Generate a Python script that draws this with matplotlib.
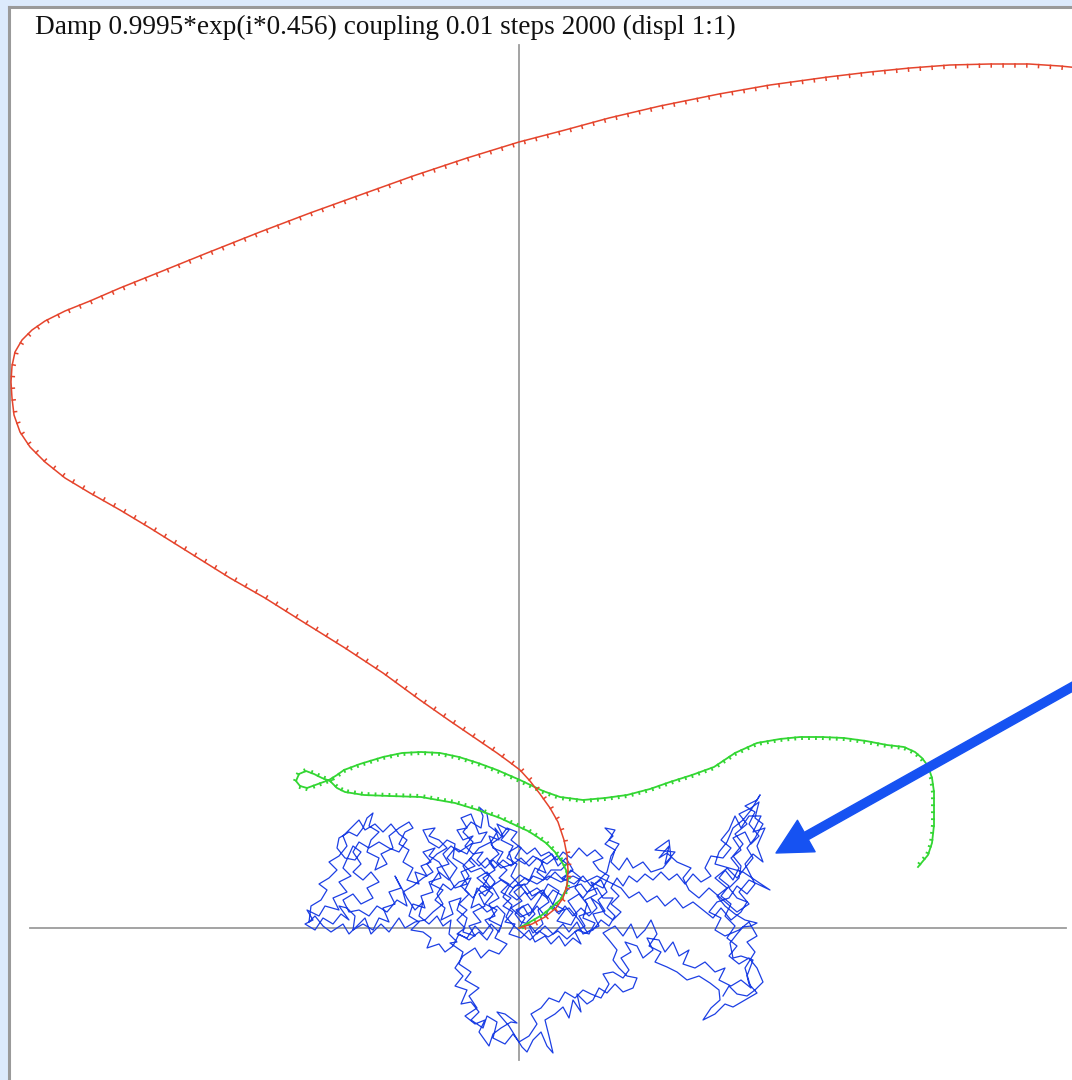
import numpy as np
import matplotlib
matplotlib.use("Agg")
import matplotlib.pyplot as plt
from matplotlib import patheffects

# trajectories in display units, origin at the crossing of the two axes
red_path = [
    (0, 0), (13, 4), (26, 11), (37, 20), (44, 30), (48, 43), (49, 58), (48, 73),
    (45, 88), (39, 106), (31, 120), (21, 134), (11, 147), (1, 158), (-11, 167),
    (-22, 175), (-44, 190), (-69, 207), (-99, 228), (-136, 255), (-174, 280),
    (-219, 308), (-254, 330), (-289, 350), (-329, 375), (-369, 400), (-399, 418),
    (-429, 435), (-454, 450), (-474, 466), (-489, 481), (-499, 496), (-505, 513),
    (-507, 530), (-508, 546), (-507, 562), (-504, 576), (-497, 588), (-487, 598),
    (-474, 607), (-454, 617), (-429, 627), (-399, 640), (-359, 656), (-312, 675),
    (-259, 696), (-209, 715), (-159, 733), (-106, 752), (-52, 770), (0, 786),
    (46, 798), (90, 810), (141, 822), (200, 834), (251, 843), (309, 851),
    (351, 856), (391, 860), (431, 863), (471, 864), (510, 864), (541, 862),
    (561, 860),
]

green_path = [
    (0, 0), (11, 6), (23, 13), (33, 21), (41, 28), (47, 38), (49, 48), (47, 58),
    (43, 66), (36, 76), (27, 85), (17, 92), (9, 97), (-4, 103), (-19, 110),
    (-41, 118), (-64, 125), (-98, 131), (-129, 132), (-155, 133), (-174, 136),
    (-182, 140), (-189, 147), (-197, 150), (-205, 154), (-213, 157), (-220, 154),
    (-223, 147), (-219, 142), (-212, 140), (-201, 144), (-190, 148), (-182, 153),
    (-175, 158), (-159, 164), (-136, 171), (-117, 175), (-98, 176), (-79, 175),
    (-60, 171), (-41, 165), (-22, 158), (1, 148), (24, 137), (41, 131), (64, 128),
    (86, 130), (108, 133), (131, 139), (151, 146), (173, 153), (195, 161),
    (216, 175), (238, 185), (261, 189), (281, 191), (303, 191), (325, 190),
    (347, 187), (368, 183), (385, 181), (396, 176), (403, 170), (409, 162),
    (413, 150), (415, 136), (415, 120), (415, 103), (413, 85), (409, 73), (399, 61),
]

blue_path = [
    (0, 0), (6, 10), (-3, 18), (9, 24), (16, 14), (8, 6), (14, -5), (24, 4), (19, 18),
    (30, 26), (24, 38), (13, 32), (5, 44), (-5, 36), (3, 27), (-8, 20), (2, 11),
    (12, 16), (21, 30), (29, 44), (40, 37), (34, 24), (46, 18), (38, 7), (52, 3),
    (58, 14), (49, 27), (60, 34), (68, 24), (64, 10), (76, 5), (70, -6), (58, -2),
    (48, -11), (39, -3), (29, -9), (20, -3), (11, -12), (3, -5), (-6, 3), (-13, 11),
    (-7, 23), (-16, 31), (-9, 43), (1, 53), (10, 47), (16, 60), (27, 55), (22, 67),
    (33, 74), (39, 62), (47, 70), (54, 58), (43, 50), (55, 44), (64, 52), (72, 42),
    (82, 48), (88, 36), (79, 28), (86, 17), (74, 14), (80, 2), (68, -4), (60, 8),
    (50, 20), (38, 16), (30, 30), (18, 40), (8, 34), (0, 44),
    (-8, 52), (-2, 64), (-12, 70), (-6, 82), (-18, 88), (-10, 98), (-22, 104),
    (-16, 92), (-28, 84), (-20, 74), (-30, 66), (-24, 58), (-36, 50), (-28, 40),
    (-40, 34), (-34, 22), (-46, 16), (-38, 6), (-50, 2), (-44, -8), (-56, -4),
    (-52, 10), (-62, 18), (-58, 30), (-70, 26), (-66, 14), (-78, 8), (-74, 20),
    (-84, 28), (-76, 38), (-88, 44), (-80, 56), (-70, 48), (-62, 60), (-72, 70),
    (-64, 80), (-52, 74), (-46, 86), (-56, 96), (-48, 106), (-38, 100), (-36, 112),
    (-40, 121), (-32, 114), (-30, 102), (-22, 96), (-28, 86), (-40, 80), (-50, 68),
    (-44, 62), (-58, 56), (-52, 44), (-64, 40),
    (-80, 66), (-90, 72), (-84, 80), (-96, 76), (-88, 66), (-98, 62), (-92, 52),
    (-104, 56), (-100, 44), (-112, 48), (-106, 60), (-116, 66), (-110, 78),
    (-120, 84), (-114, 96), (-106, 100), (-110, 106),
    (-120, 100), (-130, 92), (-126, 80), (-138, 74), (-132, 64), (-144, 58),
    (-140, 70), (-152, 76), (-148, 88), (-140, 96), (-150, 102), (-146, 115),
    (-152, 110), (-156, 100), (-162, 92), (-170, 96), (-180, 90), (-182, 80),
    (-174, 70), (-164, 68), (-158, 76), (-166, 82), (-176, 60), (-168, 52),
    (-180, 46), (-172, 36), (-186, 30), (-180, 18), (-194, 22), (-200, 12),
    (-212, 18), (-206, 8), (-214, 4), (-204, -2), (-196, 10), (-186, 4), (-178, 14),
    (-170, 8), (-180, 22), (-172, 20), (-164, 12), (-166, -2), (-156, 4), (-146, -2),
    (-140, 10), (-130, 6), (-136, 20), (-124, 24), (-130, 36), (-118, 40),
    (-124, 52), (-112, 30), (-104, 18), (-96, 26), (-100, 12), (-90, 4), (-82, 12),
    (-76, 2), (-68, 8), (-70, -6), (-62, -14),
    (-69, -15), (-56, -24), (-60, -36), (-48, -44), (-54, -52), (-40, -60),
    (-50, -68), (-42, -80), (-54, -88), (-44, -96), (-34, -92), (-40, -104),
    (-30, -118), (-26, -106), (-18, -100), (-8, -94), (-2, -95), (-14, -86),
    (-22, -84), (-10, -98), (3, -119), (8, -124), (14, -112), (22, -104), (28, -118),
    (34, -125), (30, -108), (26, -92), (36, -86), (44, -79), (50, -90), (54, -72),
    (62, -84), (58, -66), (68, -76), (74, -72), (80, -60), (88, -65), (96, -56),
    (104, -64), (114, -60), (118, -50), (108, -48), (100, -40), (94, -32), (98, -22),
    (90, -12), (84, -5),
    (96, 2), (104, -8), (112, 4), (118, -10), (126, -2), (132, 8), (138, -6),
    (130, -18), (142, -24), (136, -34), (148, -39), (158, -44), (168, -52),
    (180, -48), (191, -55), (200, -62), (201, -72), (192, -80), (184, -92),
    (196, -86), (206, -76), (214, -79), (226, -72), (238, -65), (230, -56),
    (228, -48), (234, -32), (222, -28), (214, -30), (211, -15), (218, -6), (224, 1),
    (232, 2), (238, 5), (226, 8),
    (216, 14), (206, 22), (198, 32), (208, 40), (196, 50), (206, 58), (214, 48),
    (220, 60), (212, 70), (222, 78), (214, 90), (226, 96), (232, 84), (240, 92),
    (230, 104), (236, 116), (226, 122), (238, 128), (241, 133), (232, 118),
    (224, 108), (214, 100), (208, 86), (200, 76), (196, 64), (224, 56), (251, 38),
    (230, 48), (220, 36), (230, 24), (218, 16),
    (190, 40), (180, 30), (170, 38), (164, 50), (172, 60), (158, 66), (148, 75),
    (140, 70), (150, 82), (146, 64), (156, 76), (136, 78), (150, 88), (152, 70),
    (144, 60), (132, 56), (124, 66), (114, 60), (108, 70), (100, 58), (92, 66),
    (96, 78), (86, 84), (94, 92), (86, 100), (96, 98), (90, 88), (100, 84), (92, 72),
    (88, 56), (80, 48), (72, 40), (64, 30),
    (56, 40), (62, 50), (52, 58), (44, 48), (36, 56), (28, 48), (18, 56), (24, 66),
    (14, 72), (6, 64), (-4, 70), (2, 80), (-8, 88), (-2, 96), (-12, 100), (-18, 92),
    (-24, 100), (-20, 88), (-30, 92), (-26, 80), (-16, 76), (-22, 66), (-12, 58),
    (-20, 50), (-10, 44), (-18, 36), (-8, 30), (-16, 22), (-6, 16), (-14, 6), (-4, 4),
    (-10, -6), (2, -10), (10, -2), (16, -14), (26, -8), (32, -16), (40, -8),
    (46, -18), (54, -10), (62, -16), (56, -4), (66, 2), (60, 12), (72, 16), (66, 28),
    (78, 34), (72, 46), (84, 40), (90, 52), (80, 58), (74, 66), (84, 70), (76, 78),
    (68, 72), (60, 80), (52, 70), (44, 76), (38, 68), (30, 76), (22, 72), (16, 80),
    (8, 74), (0, 82), (-10, 76), (-6, 64), (-18, 60), (-26, 68), (-34, 60), (-42, 68),
    (-36, 76), (-46, 74), (-54, 82), (-46, 92), (-56, 88), (-62, 98), (-52, 100),
    (-58, 110), (-48, 114), (-44, 104), (-40, 94), (-32, 96), (-38, 86), (-48, 84),
    (-60, 76), (-68, 82), (-76, 74), (-70, 64), (-82, 60), (-78, 50), (-90, 46),
    (-86, 36), (-98, 32), (-94, 20), (-106, 24), (-110, 12), (-100, 6), (-108, -2),
    (-96, -4), (-88, -10), (-92, -20), (-80, -16), (-74, -24), (-66, -18), (-60, -6),
    (-50, -12), (-40, -4), (-32, -12), (-26, -2), (-34, 8), (-24, 12), (-30, 24),
    (-20, 30), (-26, 40), (-38, 42), (-46, 30), (-54, 38), (-48, 50), (-60, 46),
    (-68, 38), (-76, 44), (-82, 34), (-76, 24), (-86, 16), (-94, 8),
    (-104, 6), (-114, 0), (-120, 10), (-130, -4), (-138, 4), (-148, -6), (-154, 10),
    (-162, 2), (-170, -6), (-176, 4), (-188, -4), (-196, 2), (-204, 12), (-210, 6),
    (-208, 22), (-198, 28), (-192, 38), (-200, 44), (-190, 50), (-182, 58),
    (-190, 66), (-180, 72), (-172, 82), (-176, 92), (-168, 100), (-160, 108),
    (-154, 98), (-144, 104), (-136, 96), (-128, 104), (-120, 94), (-112, 88),
    (-120, 76), (-130, 80), (-140, 86), (-150, 80), (-160, 86), (-166, 76),
    (-158, 64), (-166, 56), (-156, 48), (-148, 56), (-140, 46), (-152, 40),
    (-146, 30), (-158, 24), (-166, 34), (-176, 28), (-170, 16), (-160, 18),
    (-150, 12), (-142, 22), (-132, 16), (-122, 28), (-112, 22), (-116, 36),
    (-106, 42), (-96, 50), (-86, 56), (-92, 64), (-82, 74), (-72, 80), (-80, 88),
    (-90, 92), (-84, 100), (-96, 98),
    (-90, 86), (-80, 80), (-72, 88), (-64, 84), (-66, 70), (-56, 64), (-48, 56),
    (-38, 60), (-30, 52), (-36, 42), (-26, 34), (-34, 24), (-22, 18), (-30, 8),
    (-18, 2), (-24, -10), (-12, -16), (-20, -26), (-30, -22), (-38, -30), (-44, -20),
    (-56, -28), (-64, -40), (-56, -48), (-64, -58), (-52, -62), (-58, -76),
    (-48, -74), (-40, -84), (-48, -92), (-36, -100), (-32, -88), (-22, -94),
    (-26, -110), (-14, -116), (-6, -106), (0, -114), (10, -108), (18, -96), (12, -86),
    (22, -80), (30, -70), (40, -74), (46, -64), (56, -70), (64, -62), (72, -66),
    (82, -70), (90, -56), (84, -46), (94, -44), (104, -50),
    (110, -42), (102, -30), (112, -24), (106, -14), (118, -18), (124, -30),
    (134, -22), (128, -10), (140, -12), (146, -24), (154, -14), (160, -28),
    (170, -22), (164, -36), (176, -40), (186, -34), (196, -44), (206, -40),
    (200, -52), (212, -58), (222, -52), (232, -60), (226, -40), (236, -24),
    (228, -14), (238, -8), (230, 6), (220, -2), (206, -8), (196, -2), (202, 10),
    (190, 16), (198, 26), (210, 30), (218, 42), (228, 34), (236, 44), (226, 64),
    (234, 74), (244, 66), (238, 82), (246, 100), (234, 96), (242, 112), (230, 112),
    (222, 100), (216, 112), (210, 98), (202, 88), (212, 80), (204, 70), (192, 72),
    (186, 60), (192, 52), (182, 46), (174, 54), (166, 44), (158, 54), (150, 48),
    (142, 56), (134, 48), (126, 54), (118, 46), (110, 52), (104, 42), (98, 50),
    (92, 40), (100, 32), (92, 24), (102, 16), (94, 8), (86, 14), (80, 24),
    (72, 30), (78, 20), (70, 12), (62, 20), (54, 12), (46, 22), (40, 14), (32, 22),
    (26, 12), (18, 22), (10, 12), (4, 22), (-4, 14), (2, 6), (10, 4), (18, -6),
    (26, 2), (34, -6), (44, 4), (50, -4), (58, 6), (64, -6), (74, -2), (82, 8),
    (90, 2), (96, 12), (88, 20), (94, 30), (84, 30), (78, 40), (68, 36), (62, 44),
    (50, 40), (44, 32), (34, 38), (28, 30), (20, 36), (12, 28), (6, 36), (-2, 28),
    (-10, 34), (-4, 42), (8, 44), (14, 52), (24, 48), (32, 58), (42, 58), (48, 64),
    (38, 72), (28, 64), (18, 70), (10, 62), (2, 70),
    (-8, 62), (-16, 68), (-24, 60), (-32, 70), (-40, 62), (-48, 70), (-56, 62),
    (-50, 52), (-58, 42), (-50, 34), (-60, 24), (-52, 18), (-62, 8), (-54, 0),
    (-62, -6), (-52, -10), (-44, 2), (-36, -6), (-28, 4), (-20, -4), (-14, 14),
    (-22, 22), (-32, 16), (-40, 24), (-48, 20), (-42, 40), (-34, 32), (-24, 46),
    (-32, 56), (-42, 50),
    (-30, 40), (-18, 48), (-6, 40), (6, 50), (18, 44), (30, 52), (42, 46), (54, 52),
    (66, 46), (78, 52), (90, 46), (102, 40), (110, 30), (120, 36), (128, 26),
    (138, 32), (146, 22), (156, 30), (164, 20), (174, 26), (184, 18), (194, 10),
    (202, 20), (212, 8), (222, 16), (228, 26), (218, 30), (210, 40), (220, 50),
    (222, 62), (214, 72), (224, 84), (216, 94), (228, 104), (220, 114), (232, 120),
    (240, 126), (236, 110), (244, 104), (236, 90), (228, 80), (234, 70), (226, 60),
    (218, 50), (208, 60), (200, 50), (210, 42), (202, 32), (212, 24), (206, 12),
    (216, 2), (208, -10), (218, -18), (210, -28), (220, -36), (230, -30), (238, -40),
    (244, -54), (236, -62), (228, -68), (218, -66), (210, -58), (204, -68),
]

title = "Damp 0.9995*exp(i*0.456) coupling 0.01 steps 2000 (displ 1:1)"

red = np.array(red_path)
green = np.array(green_path)
blue = np.array(blue_path)

W, H = 1072, 1080
fig = plt.figure(figsize=(W / 100, H / 100), dpi=100, facecolor="#dceafc")
ax = fig.add_axes([9 / W, 0, (W - 9) / W, (H - 7) / H])
ax.set_facecolor("white")
ax.set_xlim(-510, 553)
ax.set_ylim(-152, 921)
ax.set_xticks([])
ax.set_yticks([])
for side in ["right", "bottom"]:
    ax.spines[side].set_visible(False)
for side in ["left", "top"]:
    ax.spines[side].set_color("#9a9a9a")
    ax.spines[side].set_linewidth(2.2)

# axes through the origin
ax.plot([-489, 547], [0, 0], color="#9c9c9c", lw=1.3, zorder=1)
ax.plot([0, 0], [-132, 883], color="#9c9c9c", lw=1.3, zorder=1)

ax.plot(blue[:, 0], blue[:, 1], color="#1c3fe4", lw=0.9, zorder=2)
ax.plot(green[:, 0], green[:, 1], color="#33d633", lw=1.3, zorder=3,
        path_effects=[patheffects.withTickedStroke(spacing=5, angle=-90, length=0.3)])
ax.plot(red[:, 0], red[:, 1], color="#e5442c", lw=1.1, zorder=4,
        path_effects=[patheffects.withTickedStroke(spacing=8.5, angle=-90, length=0.25)])

ax.annotate("", xy=(257, 75), xytext=(560, 245),
            arrowprops=dict(width=6, headwidth=26, headlength=25, color="#1652f2"),
            annotation_clip=False, zorder=5)

fig.text(35 / W, 1 - 34 / H, title, family="Liberation Serif", fontsize=19.6,
         color="#111111", va="baseline", ha="left")

fig.savefig("out.png", dpi=100, facecolor=fig.get_facecolor())
